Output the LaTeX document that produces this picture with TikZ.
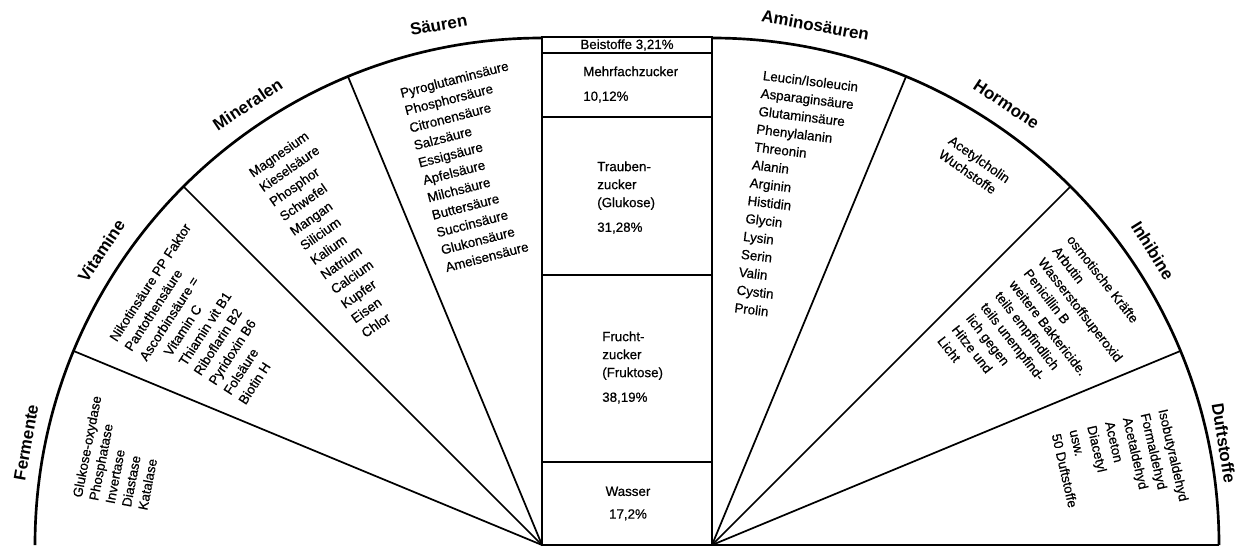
\documentclass[tikz,border=0pt]{standalone}
\usepackage{fontspec}
\setmainfont{Liberation Sans}
\newfontfamily\itemfont[FakeBold=0.6]{Liberation Sans}
\usetikzlibrary{calc}
\begin{document}
\begin{tikzpicture}[x=0.75pt,y=0.75pt,
  arcline/.style={line width=2pt},
  radline/.style={line width=1.3pt},
  boxline/.style={line width=2.2pt},
  divline/.style={line width=1.5pt},
  cat/.style={font=\fontsize{12.75}{14}\selectfont\bfseries, inner sep=0pt},
  items/.style={font=\itemfont\fontsize{10}{#1}\selectfont, align=left, anchor=north west, inner sep=0pt},
  boxtext/.style={font=\itemfont\fontsize{10}{13.5}\selectfont, align=left, inner sep=0pt},
]
\useasboundingbox (0,0) rectangle (1244,547);
\def\myR{507}
\coordinate (CL) at (542,2);
\coordinate (CR) at (712,2);
% outer arcs
\draw[arcline] ($(CL)+(180:\myR)$) arc[start angle=180,end angle=90,radius=\myR];
\draw[arcline] ($(CR)+(90:\myR)$) arc[start angle=90,end angle=0,radius=\myR];
% radial dividers
\foreach \a in {112.5,135,157.5} \draw[radline] (CL) -- ($(CL)+(\a:\myR)$);
\foreach \a in {67.5,45,22.5} \draw[radline] (CR) -- ($(CR)+(\a:\myR)$);
\draw[radline] (CR) -- ($(CR)+(0:\myR)$);
% central column
\draw[boxline] (CL) -- (542,510) -- (712,510) -- (CR) -- cycle;
\foreach \y in {494,430,272,85} \draw[divline] (542,\y) -- (712,\y);

% central texts
\node[boxtext, align=center] (beistoffe) at (627,502) {Beistoffe 3,21\%};
\node[boxtext, anchor=west] (mehrfach) at (583,462.5) {Mehrfachzucker\\[5pt]10,12\%};
\node[boxtext, anchor=west] (trauben) at (597,349.5) {Trauben-\\zucker\\(Glukose)\\[5pt]31,28\%};
\node[boxtext, anchor=west] (frucht) at (602,179.5) {Frucht-\\zucker\\(Fruktose)\\[5pt]38,19\%};
\node[boxtext, align=center] (wasser) at (628,43.5) {Wasser\\[3.5pt]17,2\%};

% category labels
\node[cat, rotate=80] (lferm) at ($(CL)+(168.75:526)$) {Fermente};
\node[cat, rotate=56.25] (lvit) at ($(CL)+(146.25:530)$) {Vitamine};
\node[cat, rotate=33.75] (lmin) at ($(CL)+(123.75:530)$) {Mineralen};
\node[cat, rotate=10] (lsaeu) at ($(CL)+(101.25:530)$) {Säuren};
\node[cat, rotate=-10] (lamino) at ($(CR)+(78.75:530)$) {Aminosäuren};
\node[cat, rotate=-33.75] (lhorm) at ($(CR)+(56.25:530)$) {Hormone};
\node[cat, rotate=-58] (linh) at ($(CR)+(33.75:530)$) {Inhibine};
\node[cat, rotate=-81] (lduft) at ($(CR)+(11.25:522)$) {Duftstoffe};

% sector contents
\node[items=12.5, rotate=79] (tferm) at (72,50.6)
  {Glukose-oxydase\\Phosphatase\\Invertase\\Diastase\\Katalase};
\node[items=13.35, rotate=57] (tvit) at (108.3,209.8)
  {Nikotinsäure PP Faktor\\Pantothensäure\\Ascorbinsäure =\\\hspace*{13pt}Vitamin C\\\hspace*{13pt}Thiamin vit B1\\\hspace*{13pt}Riboflarin B2\\\hspace*{13pt}Pyridoxin B6\\\hspace*{13pt}Folsäure\\\hspace*{13pt}Biotin H};
\node[items=13.35, rotate=35] (tmin) at (247.3,377.2)
  {Magnesium\\Kieselsäure\\Phosphor\\Schwefel\\Mangan\\Silicium\\Kalium\\Natrium\\Calcium\\Kupfer\\Eisen\\Chlor};
\node[items=13.5, rotate=14.5] (tsaeu) at (399,458.7)
  {Pyroglutaminsäure\\Phosphorsäure\\Citronensäure\\Salzsäure\\Essigsäure\\Apfelsäure\\Milchsäure\\Buttersäure\\Succinsäure\\Glukonsäure\\Ameisensäure};
\node[items=13.5, rotate=-7] (tamino) at (763.5,476.9)
  {Leucin/Isoleucin\\Asparaginsäure\\Glutaminsäure\\Phenylalanin\\Threonin\\Alanin\\Arginin\\Histidin\\Glycin\\Lysin\\Serin\\Valin\\Cystin\\Prolin};
\node[items=12.75, rotate=-35] (thorm) at (953,412.5)
  {Acetylcholin\\Wuchstoffe};
\node[items=13.7, rotate=-52] (tinh) at (1074,313.4)
  {osmotische Kräfte\\Arbutin\\Wasserstoffsuperoxid\\Penicillin B\\weitere Baktericide.\\teils empfindlich\\teils unempfind-\\lich gegen\\Hitze und\\Licht};
\node[items=13.7, rotate=-77] (tduft) at (1168,139.1)
  {Isobutyraldehyd\\Formaldehyd\\Acetaldehyd\\Aceton\\Diacetyl\\usw.\\50 Duftstoffe};
\end{tikzpicture}
\end{document}
